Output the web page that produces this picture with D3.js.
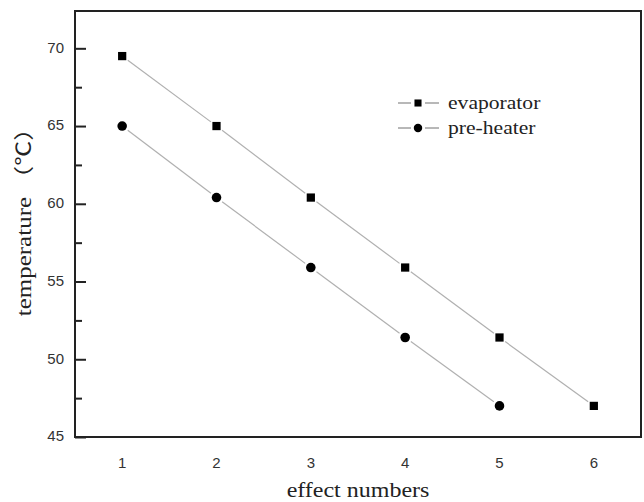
<!DOCTYPE html>
<html>
<head>
<meta charset="utf-8">
<script src="https://cdn.jsdelivr.net/npm/d3@7"></script>
<style>
  body { margin: 0; background: #fff; }
  svg { display: block; }
</style>
</head>
<body>
<div id="chart"></div>
<script>
// data
const effects = [1, 2, 3, 4, 5, 6];
const evaporator = [69.5, 65.0, 60.4, 55.9, 51.4, 47.0];
const preheater = [65.0, 60.4, 55.9, 51.4, 47.0];
const yTicks = [45, 50, 55, 60, 65, 70];
const seriesNames = ["evaporator", "pre-heater"];

const W = 644, H = 502;
const margin = {top: 11, right: 3, bottom: 65, left: 75};
const serif = "Liberation Serif, Times New Roman, Noto Sans CJK SC, serif";
const sans = "Liberation Sans, Arial, sans-serif";

const svg = d3.select("#chart").append("svg")
    .attr("width", W)
    .attr("height", H);

const x = d3.scaleLinear().domain([0.5, 6.5]).range([margin.left, W - margin.right]);
const y = d3.scaleLinear().domain([45, 72.4]).range([H - margin.bottom, margin.top]);

// minor + major ticks pointing inward on the y axis
const yAxis = d3.axisRight(y).tickValues(yTicks).tickSize(11).tickFormat("");
const yMinor = d3.axisRight(y).tickValues(d3.range(47.5, 72.4, 5)).tickSize(7).tickFormat("");

svg.append("g").attr("transform", `translate(${margin.left},0)`).call(yAxis)
    .call(g => g.select(".domain").remove())
    .selectAll("line").attr("stroke", "#222").attr("stroke-width", 2);
svg.append("g").attr("transform", `translate(${margin.left},0)`).call(yMinor)
    .call(g => g.select(".domain").remove())
    .selectAll("line").attr("stroke", "#222").attr("stroke-width", 2);

// y tick labels
svg.selectAll(".ylab")
    .data(yTicks)
    .enter().append("text")
    .attr("class", "ylab")
    .attr("x", margin.left - 11)
    .attr("y", d => y(d) - 1)
    .attr("dy", "0.35em")
    .attr("text-anchor", "end")
    .style("font-family", sans)
    .style("font-size", "15px")
    .style("fill", "#333")
    .text(d => d);

// x tick labels (no tick marks)
svg.selectAll(".xlab")
    .data(effects)
    .enter().append("text")
    .attr("class", "xlab")
    .attr("x", d => x(d))
    .attr("y", H - margin.bottom + 31)
    .attr("text-anchor", "middle")
    .style("font-family", sans)
    .style("font-size", "15px")
    .style("fill", "#333")
    .text(d => d);

// frame
svg.append("rect")
    .attr("x", margin.left)
    .attr("y", margin.top)
    .attr("width", W - margin.right - margin.left)
    .attr("height", H - margin.bottom - margin.top)
    .attr("fill", "none")
    .attr("stroke", "#222")
    .attr("stroke-width", 2);

// line segments with a small gap around markers
function drawSeries(vals, shape) {
    const pts = vals.map((v, i) => [x(effects[i]), y(v)]);
    const gap = 7;
    for (let i = 0; i < pts.length - 1; i++) {
        const [x1, y1] = pts[i], [x2, y2] = pts[i + 1];
        const len = Math.hypot(x2 - x1, y2 - y1);
        const ux = (x2 - x1) / len, uy = (y2 - y1) / len;
        svg.append("line")
            .attr("x1", x1 + ux * gap).attr("y1", y1 + uy * gap)
            .attr("x2", x2 - ux * gap).attr("y2", y2 - uy * gap)
            .attr("stroke", "#b0b0b0")
            .attr("stroke-width", 1.2);
    }
    svg.selectAll(null)
        .data(pts)
        .enter().append("path")
        .attr("transform", d => `translate(${d[0]},${d[1]})`)
        .attr("d", d3.symbol().type(shape).size(shape === d3.symbolSquare ? 68 : 72))
        .attr("fill", "#000");
}
drawSeries(evaporator, d3.symbolSquare);
drawSeries(preheater, d3.symbolCircle);

// legend
const legend = svg.selectAll(".legend")
    .data(seriesNames)
    .enter().append("g")
    .attr("class", "legend")
    .attr("transform", (d, i) => `translate(398,${103 + i * 25})`);

legend.append("line").attr("x1", 0).attr("x2", 13).attr("stroke", "#888").attr("stroke-width", 1.2);
legend.append("line").attr("x1", 27).attr("x2", 41).attr("stroke", "#888").attr("stroke-width", 1.2);
legend.append("path")
    .attr("transform", "translate(20,0)")
    .attr("d", (d, i) => d3.symbol().type(i === 0 ? d3.symbolSquare : d3.symbolCircle).size(i === 0 ? 50 : 56)())
    .attr("fill", "#000");
legend.append("text")
    .attr("transform", "translate(50,0) scale(1.2,1)")
    .attr("dy", "0.32em")
    .style("font-family", serif)
    .style("font-size", "18px")
    .style("fill", "#222")
    .text(d => d);

// axis titles (the original type is horizontally stretched)
svg.append("text")
    .attr("transform", `translate(${(margin.left + W - margin.right) / 2},497) scale(1.2,1)`)
    .attr("text-anchor", "middle")
    .style("font-family", serif)
    .style("font-size", "20px")
    .style("fill", "#222")
    .text("effect numbers");

svg.append("text")
    .attr("transform", `translate(31,216) rotate(-90) scale(1.25,1)`)
    .attr("text-anchor", "middle")
    .style("font-family", serif)
    .style("font-size", "20px")
    .style("fill", "#222")
    .text("temperature （℃）");
</script>
</body>
</html>
